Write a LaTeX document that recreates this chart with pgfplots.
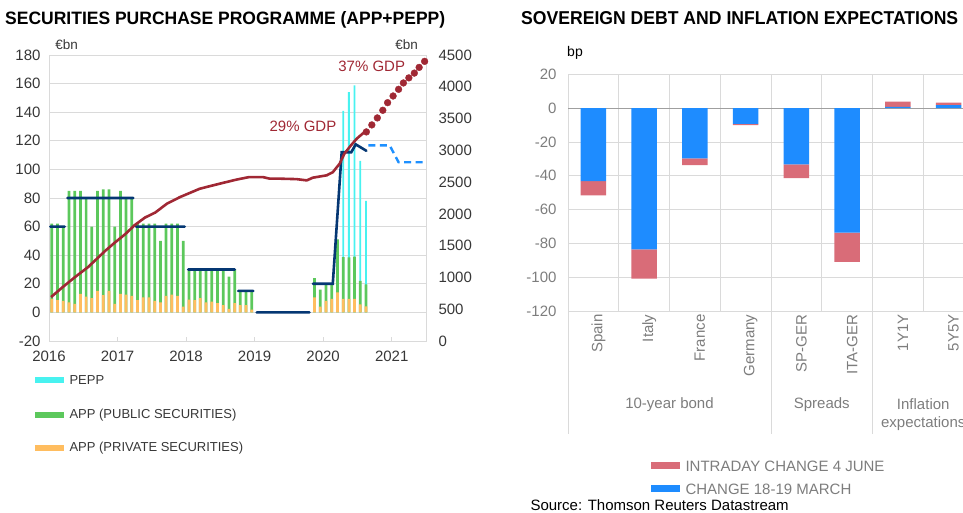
\documentclass[border=0pt]{standalone}
\usepackage{pgfplots}
\usepackage{pgfplotstable}
\usepackage{graphicx}
\pgfplotsset{compat=1.18}
\usepackage{fontspec}
\setmainfont{Liberation Sans}
\definecolor{cpepp}{RGB}{72,242,240}
\definecolor{cpub}{RGB}{92,200,92}
\definecolor{cpriv}{RGB}{255,189,95}
\definecolor{cnavy}{RGB}{5,55,115}
\definecolor{clblue}{RGB}{30,144,255}
\definecolor{cdred}{RGB}{160,40,52}
\definecolor{rblue}{RGB}{30,140,255}
\definecolor{rred}{RGB}{217,108,120}
\definecolor{tgray}{RGB}{125,125,125}
\definecolor{dgray}{RGB}{55,55,55}
\definecolor{gridc}{RGB}{218,218,218}
\newcommand\fs[1]{\fontsize{#1}{#1}\selectfont}

\pgfplotstableread{
m priv tot pepp
0 9.5 62 0
1 8.5 62 0
2 8 60 0
3 7 85 0
4 6 85 0
5 13 85 0
6 11 80 0
7 10 60 0
8 15 85 0
9 12 86 0
10 15 86 0
11 6 60 0
12 13 85 0
13 12.5 80 0
14 11.5 80 0
15 8.5 62 0
16 10.5 62 0
17 10.5 62 0
18 8 62 0
19 7 50 0
20 11.5 62 0
21 12.5 62 0
22 11.5 62 0
23 4 50 0
24 9 30 0
25 8.5 30 0
26 10 30 0
27 7 30 0
28 7.5 30 0
29 6.5 30 0
30 5 30 0
31 2.5 25 0
32 6.5 30 0
33 5 15 0
34 5 15 0
35 2 15 0
46 10.5 24 0
47 4 16 0
48 8 20 0
49 9.5 20 0
50 14 51 0
51 9.5 38.7 141
52 9.5 38.5 154
53 9.5 39 158.7
54 5.6 22 106
55 4.2 19.6 78
}\bars

\pgfplotstableread{
x blue red
0 -43.2 -8.4
1 -83.5 -17.4
2 -29.8 -3.9
3 -9.3 -0.7
4 -33.3 -8.1
5 -73.7 -17.3
6 0.8 3.1
7 1.8 1.5
}\sov

\begin{document}
\begin{tikzpicture}[x=1pt,y=1pt]
% ---------- LEFT CHART ----------
\begin{axis}[
  at={(49pt,172pt)}, anchor=south west, scale only axis,
  width=377pt, height=286pt,
  xmin=2016, xmax=2021.5, ymin=-20, ymax=180,
  ytick={-20,0,...,180},
  xtick={2016,...,2021}, xticklabels={2016,2017,2018,2019,2020,2021},
  ymajorgrids, grid style={gridc, line width=0.8pt},
  axis line style={gridc, line width=0.8pt},
  tick align=inside, xtick pos=bottom, ytick pos=left,
  ytick style={draw=none}, xtick style={gridc, line width=0.8pt},
  major tick length=4pt,
  ticklabel style={font=\fs{15}, text=dgray},
  xticklabel style={yshift=-6pt},
  yticklabel style={xshift=-5pt},
  /pgf/number format/assume math mode=true,
  unbounded coords=jump, clip=false,
]
\addplot[ybar, bar width=0.026, bar shift=0pt, fill=cpepp, draw=none]
  table[x expr={2016+(\thisrow{m}+0.5)/12}, y=pepp]{\bars};
\addplot[ybar, bar width=0.04, bar shift=0pt, fill=cpub, draw=none]
  table[x expr={2016+(\thisrow{m}+0.5)/12}, y=tot]{\bars};
\addplot[ybar, bar width=0.04, bar shift=0pt, fill=cpriv, draw=none]
  table[x expr={2016+(\thisrow{m}+0.5)/12}, y=priv]{\bars};
\addplot[cnavy, line width=2.6pt, line cap=round] coordinates {
  (2016.02,60) (2016.23,60) (2016.24,nan)
  (2016.27,80) (2017.23,80) (2017.24,nan)
  (2017.27,60) (2017.98,60) (2017.99,nan)
  (2018.03,30) (2018.71,30) (2018.72,nan)
  (2018.76,15) (2018.98,15) (2018.99,nan)
  (2019.03,0) (2019.80,0) (2019.81,nan)
  (2019.85,20) (2020.14,20) (2020.27,112) (2020.41,112) (2020.475,117.5) (2020.63,113)
};
\addplot[clblue, line width=2.4pt, dash pattern=on 7pt off 4.5pt] coordinates {
  (2020.66,116.8) (2020.97,116.8) (2021.1,105) (2021.5,105)
};
\end{axis}
\begin{axis}[
  at={(49pt,172pt)}, anchor=south west, scale only axis,
  width=377pt, height=286pt,
  xmin=2016, xmax=2021.5, ymin=0, ymax=4500,
  axis y line*=right, axis x line=none,
  ytick={0,500,...,4500}, ytick style={draw=none},
  axis line style={gridc, line width=0.8pt},
  yticklabel style={font=\fs{15}, text=dgray, xshift=9pt, /pgf/number format/1000 sep={}},
  /pgf/number format/assume math mode=true,
  clip=false,
]
\addplot[cdred, line width=2.6pt, line join=round] coordinates {
  (2016.03,691) (2016.19,839) (2016.38,1006) (2016.57,1163) (2016.82,1418)
  (2016.96,1548) (2017.11,1679) (2017.25,1823) (2017.40,1942) (2017.55,2021)
  (2017.72,2160) (2017.91,2264) (2018.20,2396) (2018.49,2475) (2018.73,2538)
  (2018.92,2579) (2019.12,2579) (2019.22,2554) (2019.37,2554) (2019.61,2547)
  (2019.76,2527) (2019.85,2570) (2020.05,2606) (2020.14,2655) (2020.24,2790)
  (2020.31,2948) (2020.40,3071) (2020.49,3184) (2020.60,3285)
};
\addplot[only marks, mark=*, mark size=3.4pt, cdred, mark options={draw=cdred, fill=cdred}] coordinates {
  (2020.63,3290) (2020.71,3400) (2020.79,3510) (2020.87,3630) (2020.94,3750)
  (2021.02,3855) (2021.10,3960) (2021.17,4060) (2021.25,4140) (2021.33,4215)
  (2021.40,4305) (2021.48,4400)
};
\end{axis}
\node[font=\fs{15}, text=cdred] at (371.7,447) {37\% GDP};
\node[font=\fs{15}, text=cdred] at (303,386.3) {29\% GDP};
\node[font=\fs{13.5}, text=dgray] at (66.7,468) {€bn};
\node[font=\fs{13.5}, text=dgray] at (406.7,468) {€bn};
% left legend
\fill[cpepp] (35,130) rectangle (64,136);
\node[anchor=west, font=\fs{13}, text=dgray] at (66,133) {PEPP};
\fill[cpub] (35,95) rectangle (64,101);
\node[anchor=west, font=\fs{13}, text=dgray] at (66,98) {APP (PUBLIC SECURITIES)};
\fill[cpriv] (35,62) rectangle (64,68);
\node[anchor=west, font=\fs{13}, text=dgray] at (66,65) {APP (PRIVATE SECURITIES)};
% titles
\node[anchor=base west, inner sep=0pt] at (5,488) {\resizebox{440pt}{13pt}{\bfseries SECURITIES PURCHASE PROGRAMME (APP+PEPP)}};
\node[anchor=base west, inner sep=0pt] at (521,488) {\resizebox{437pt}{13pt}{\bfseries SOVEREIGN DEBT AND INFLATION EXPECTATIONS}};

% ---------- RIGHT CHART ----------
\begin{axis}[
  at={(568pt,202pt)}, anchor=south west, scale only axis,
  width=406pt, height=236.7pt,
  ybar stacked, bar width=0.5,
  xmin=-0.5, xmax=7.5, ymin=-120, ymax=20,
  ytick={-120,-100,...,20},
  xtick={0,...,7},
  xticklabels={Spain,Italy,France,Germany,SP-GER,ITA-GER,1Y1Y,5Y5Y},
  minor xtick={0.5,1.5,...,6.5},
  xminorgrids, ymajorgrids,
  grid style={gridc, line width=0.8pt},
  minor grid style={gridc, line width=0.8pt},
  axis line style={gridc, line width=0.8pt},
  tick style={draw=none},
  xticklabel style={rotate=90, anchor=east, font=\fs{15}, text=tgray, yshift=-5pt},
  yticklabel style={font=\fs{15}, text=tgray, xshift=-8pt},
  /pgf/number format/assume math mode=true,
  extra y ticks={0}, extra y tick labels={},
  extra y tick style={grid style={gray!75, line width=1pt}},
  clip=false,
]
\addplot[fill=rblue, draw=none] table[x=x, y=blue]{\sov};
\addplot[fill=rred, draw=none] table[x=x, y=red]{\sov};
\draw[gridc, line width=0.8pt] (axis cs:-0.5,-120) -- (axis cs:-0.5,-192.8);
\draw[gridc, line width=0.8pt] (axis cs:3.5,-120) -- (axis cs:3.5,-192.8);
\draw[gridc, line width=0.8pt] (axis cs:5.5,-120) -- (axis cs:5.5,-192.8);
\draw[gridc, line width=0.8pt] (axis cs:7.5,-120) -- (axis cs:7.5,-192.8);
\node[font=\fs{15}, text=tgray] at (axis cs:1.5,-175.6) {10-year bond};
\node[font=\fs{15}, text=tgray] at (axis cs:4.5,-175.6) {Spreads};
\node[font=\fontsize{15}{18}\selectfont, text=tgray, align=center] at (axis cs:6.5,-181) {Inflation\\expectations};
\end{axis}
\node[font=\fs{14}] at (575,460) {bp};
% right legend
\fill[rred] (651,43.5) rectangle (680,50.5);
\node[anchor=west, font=\fs{15}, text=tgray] at (682,47) {INTRADAY CHANGE 4 JUNE};
\fill[rblue] (651,20.5) rectangle (680,27.5);
\node[anchor=west, font=\fs{15}, text=tgray] at (682,24) {CHANGE 18-19 MARCH};
\node[anchor=west, font=\fs{15}] at (527,8) {Source: Thomson Reuters Datastream};

\pgfresetboundingbox
\path[use as bounding box] (0,0) rectangle (963,513);
\end{tikzpicture}
\end{document}
